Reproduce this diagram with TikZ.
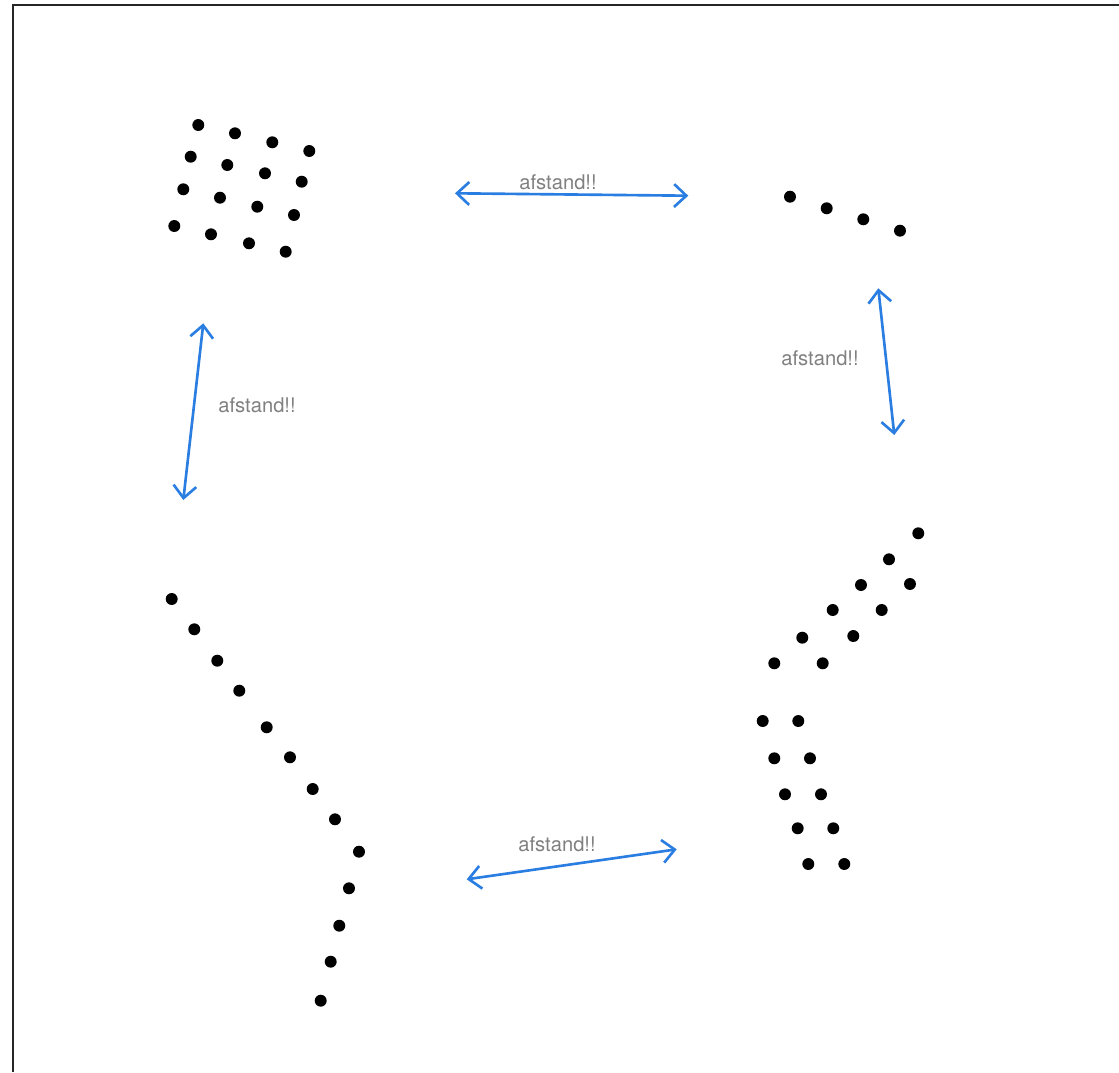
\documentclass[tikz,border=0pt]{standalone}
\usepackage{fontspec}
\setmainfont{TeX Gyre Heros}
\usetikzlibrary{arrows.meta, positioning}
\definecolor{afstblue}{HTML}{2A7DE1}
\tikzset{
    dot/.style={circle, fill=black, inner sep=0pt, minimum size=6.8pt},
    afst/.style={{Straight Barb[length=7pt, width=13pt]}-{Straight Barb[length=7pt, width=13pt]}, line width=1.5pt, draw=afstblue},
    lbl/.style={font=\fontsize{11.5}{13}\selectfont, text=black!50, inner sep=1pt},
    frame/.style={line width=1.2pt, draw=black!85}
}

\begin{document}
\begin{tikzpicture}[x=0.02cm, y=-0.02cm]
    \useasboundingbox (0,0) rectangle (1119,1072);
    \draw [frame] (1119,5) -- (13,5) -- (13,1072);

    % grid of dots, top left
    \foreach \px/\py [count=\i] in {198.3/125, 235/133.3, 272.3/142.3, 309.3/151,
        190.7/156.7, 227.3/165, 265/173.3, 301.7/181.7,
        183.3/189.3, 220/197.7, 257.3/206.7, 294/215,
        174.3/226, 211/234.3, 249/243.3, 285.7/251.7}
        \node (grid\i) [dot] at (\px,\py) {};

    % row of dots, top right
    \foreach \px/\py [count=\i] in {790/196.7, 826.7/208.3, 863.3/219.3, 900/230.7}
        \node (row\i) [dot] at (\px,\py) {};

    % double line of dots, bottom right
    \foreach \px/\py [count=\i] in {918.3/533.3, 889/559.3, 861/585, 910/584,
        832.7/610, 881.7/610, 802.3/637.7, 853.3/636, 774.3/663.3, 822.7/663.3,
        762.7/721, 798.3/721, 774.3/758.3, 810/758.3, 785/794.3, 821/794.3,
        797.7/828.3, 833.3/828.3, 808.3/864, 844.3/864}
        \node (pair\i) [dot] at (\px,\py) {};

    % bent line of dots, bottom left
    \foreach \px/\py [count=\i] in {171.7/599, 194.3/629.3, 217.3/660.7, 239.3/690.7,
        266.7/727.3, 290/757.3, 312.7/789, 335/819.3, 359/851.7,
        349/888.3, 339.3/925.7, 330.7/961.7, 320.7/1000.7}
        \node (bend\i) [dot] at (\px,\py) {};

    \coordinate (topA) at (455,193.3);
    \coordinate (topB) at (688.3,195.7);
    \coordinate (rightA) at (878.3,288.3);
    \coordinate (rightB) at (894.3,435);
    \coordinate (leftA) at (203.3,323.3);
    \coordinate (leftB) at (183.3,500);
    \coordinate (botA) at (466.7,879.3);
    \coordinate (botB) at (676.7,849.3);

    \draw [afst] (topA) -- (topB);
    \draw [afst] (rightA) -- (rightB);
    \draw [afst] (leftA) -- (leftB);
    \draw [afst] (botA) -- (botB);

    \node (lblTop) [lbl] at (558,182) {afstand!!};
    \node (lblRight) [lbl] at (820,358) {afstand!!};
    \node (lblLeft) [lbl] at (257,405) {afstand!!};
    \node (lblBot) [lbl] at (557,844) {afstand!!};
\end{tikzpicture}
\end{document}
